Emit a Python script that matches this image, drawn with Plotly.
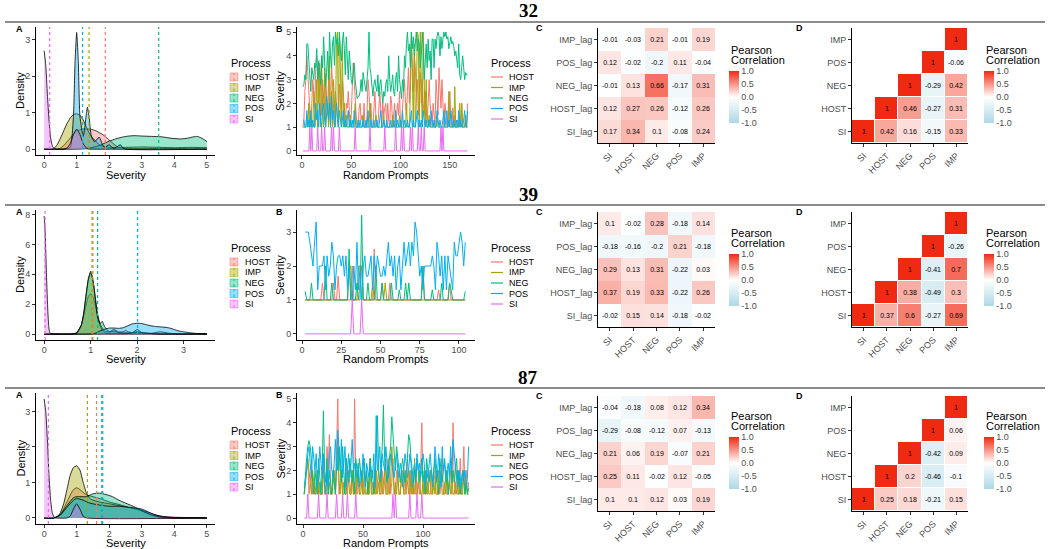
import plotly.graph_objects as go

W, H = 1050, 549
FONT = "Liberation Sans, Arial, sans-serif"

PROCESSES = ["HOST", "IMP", "NEG", "POS", "SI"]
COLORS = {"HOST": "#F8766D", "IMP": "#A3A500", "NEG": "#00BF7D", "POS": "#00B0F6", "SI": "#E76BF3"}
FILLS = {"HOST": "rgba(248,118,109,0.4)", "IMP": "rgba(163,165,0,0.4)", "NEG": "rgba(0,191,125,0.4)",
         "POS": "rgba(0,176,246,0.4)", "SI": "rgba(231,107,243,0.4)"}
PROMPTS = ["32", "39", "87"]
CORR_COLS = ["SI", "HOST", "NEG", "POS", "IMP"]
LAG_ROWS = ["SI_lag", "HOST_lag", "NEG_lag", "POS_lag", "IMP_lag"]

# ---------------- density curves (panel A) ----------------
# prompt 32
D32_HOST_X = [0, 0.4, 0.5, 0.6, 0.7, 0.8, 0.9, 1.0, 1.2, 1.4, 1.5, 1.6, 1.7, 1.8, 1.9, 2.0, 2.1, 2.2, 2.3, 2.5, 3.0, 3.5, 4.0, 4.5, 5.0]
D32_HOST_Y = [0, 0, 0.03, 0.1, 0.2, 0.3, 0.42, 0.5, 0.55, 0.55, 0.53, 0.5, 0.45, 0.4, 0.33, 0.25, 0.17, 0.1, 0.05, 0.02, 0.01, 0.02, 0.02, 0.01, 0]
D32_IMP_X = [0, 0.2, 0.3, 0.4, 0.5, 0.6, 0.7, 0.8, 0.9, 1.0, 1.1, 1.2, 1.3, 1.4, 1.5, 1.6, 1.7, 1.8, 2.0, 2.5, 3.0, 3.5, 4.0, 4.5, 5.0]
D32_IMP_Y = [0, 0, 0.02, 0.12, 0.3, 0.5, 0.7, 0.85, 0.95, 0.97, 0.93, 0.8, 0.6, 0.42, 0.3, 0.2, 0.12, 0.08, 0.05, 0.05, 0.06, 0.05, 0.04, 0.05, 0.04]
D32_NEG_X = [0, 1.0, 1.3, 1.5, 1.7, 1.9, 2.0, 2.2, 2.4, 2.6, 2.8, 3.0, 3.3, 3.6, 3.9, 4.2, 4.4, 4.6, 4.7, 4.8, 4.9, 5.0]
D32_NEG_Y = [0, 0, 0.02, 0.05, 0.1, 0.18, 0.22, 0.28, 0.33, 0.36, 0.37, 0.36, 0.35, 0.34, 0.3, 0.28, 0.3, 0.34, 0.35, 0.32, 0.27, 0.21]
D32_POS_X = [0, 0.6, 0.8, 0.9, 0.95, 1.0, 1.05, 1.1, 1.2, 1.25, 1.3, 1.33, 1.38, 1.45, 1.55, 1.65, 1.7, 1.78, 1.85, 1.95, 2.0, 2.05, 2.15, 2.3, 2.35, 2.4, 2.5, 5.0]
D32_POS_Y = [0, 0, 0.05, 0.9, 2.4, 3.2, 2.4, 0.9, 0.35, 0.6, 1.0, 1.15, 0.9, 0.35, 0.2, 0.3, 0.32, 0.15, 0.05, 0.1, 0.12, 0.08, 0.02, 0.1, 0.12, 0.05, 0, 0]
D32_SI_X = [0, 0.05, 0.1, 0.15, 0.2, 0.25, 0.3, 0.4, 0.6, 0.7, 0.8, 0.9, 1.0, 1.1, 1.2, 1.3, 1.4, 1.6, 5.0]
D32_SI_Y = [2.7, 2.3, 1.5, 0.8, 0.3, 0.1, 0.02, 0, 0, 0.03, 0.15, 0.4, 0.55, 0.4, 0.15, 0.03, 0, 0, 0]

# prompt 39
D39_HOST_X = [0, 0.6, 0.7, 0.8, 0.9, 0.95, 1.0, 1.05, 1.1, 1.2, 1.3, 1.4, 1.5, 1.6, 1.7, 1.75, 1.8, 1.9, 2.0, 2.1, 2.3, 2.5, 2.7, 3.0, 3.5]
D39_HOST_Y = [0, 0, 0.1, 0.6, 1.9, 2.5, 2.7, 2.5, 1.9, 0.7, 0.2, 0.15, 0.3, 0.15, 0.15, 0.25, 0.15, 0.1, 0.3, 0.1, 0.05, 0.15, 0.05, 0, 0]
D39_IMP_X = [0, 0.6, 0.7, 0.8, 0.85, 0.9, 0.95, 1.0, 1.05, 1.1, 1.15, 1.2, 1.25, 1.3, 1.4, 1.5, 1.7, 2.0, 2.2, 2.5, 3.0, 3.5]
D39_IMP_Y = [0, 0, 0.05, 0.6, 1.3, 2.5, 3.6, 4.1, 3.6, 2.5, 1.3, 0.6, 0.25, 0.1, 0.05, 0.05, 0.05, 0.1, 0.05, 0, 0, 0]
D39_NEG_X = [0, 0.6, 0.7, 0.8, 0.85, 0.9, 0.95, 1.0, 1.05, 1.1, 1.15, 1.2, 1.25, 1.3, 1.4, 1.5, 1.6, 1.8, 2.0, 2.2, 2.5, 3.0, 3.5]
D39_NEG_Y = [0, 0, 0.05, 0.6, 1.4, 2.6, 3.7, 4.2, 3.6, 2.3, 1.1, 0.7, 0.85, 0.5, 0.15, 0.2, 0.1, 0.05, 0.15, 0.05, 0, 0, 0.02]
D39_POS_X = [0, 1.0, 1.1, 1.2, 1.3, 1.4, 1.5, 1.6, 1.7, 1.8, 1.9, 2.0, 2.1, 2.2, 2.3, 2.4, 2.5, 2.6, 2.7, 2.8, 2.9, 3.0, 3.1, 3.2, 3.3, 3.4, 3.5]
D39_POS_Y = [0, 0, 0.05, 0.2, 0.32, 0.4, 0.4, 0.38, 0.42, 0.55, 0.68, 0.72, 0.7, 0.62, 0.55, 0.5, 0.48, 0.45, 0.4, 0.3, 0.2, 0.15, 0.1, 0.06, 0.03, 0.01, 0]
D39_SI_X = [0, 0.02, 0.05, 0.08, 0.1, 0.12, 0.15, 0.2, 3.5]
D39_SI_Y = [7.9, 7.0, 4.0, 1.5, 0.5, 0.1, 0.02, 0, 0]

# prompt 87
D87_HOST_X = [0, 0.3, 0.5, 0.7, 0.9, 1.0, 1.1, 1.3, 1.5, 1.8, 2.0, 2.3, 2.6, 3.0, 3.3, 3.6, 4.0, 4.5, 5.0]
D87_HOST_Y = [0, 0, 0.1, 0.45, 0.8, 0.85, 0.8, 0.65, 0.6, 0.52, 0.45, 0.38, 0.3, 0.22, 0.12, 0.05, 0.02, 0.01, 0]
D87_IMP_X = [0, 0.3, 0.4, 0.5, 0.6, 0.7, 0.8, 0.9, 1.0, 1.1, 1.2, 1.3, 1.4, 1.5, 1.7, 2.0, 2.3, 2.6, 3.0, 3.3, 3.6, 4.0, 5.0]
D87_IMP_Y = [0, 0, 0.03, 0.15, 0.4, 0.8, 1.2, 1.42, 1.47, 1.35, 1.0, 0.7, 0.55, 0.5, 0.45, 0.4, 0.35, 0.3, 0.2, 0.08, 0.02, 0, 0]
D87_NEG_X = [0, 0.3, 0.5, 0.7, 0.9, 1.0, 1.1, 1.3, 1.5, 1.7, 1.9, 2.1, 2.3, 2.5, 2.8, 3.0, 3.3, 3.6, 4.0, 5.0]
D87_NEG_Y = [0, 0, 0.1, 0.35, 0.57, 0.6, 0.6, 0.6, 0.68, 0.7, 0.66, 0.6, 0.5, 0.42, 0.3, 0.2, 0.08, 0.02, 0, 0]
D87_POS_X = [0, 0.3, 0.5, 0.7, 0.9, 1.0, 1.2, 1.4, 1.6, 1.8, 2.0, 2.3, 2.6, 2.9, 3.0, 3.2, 3.5, 3.8, 4.0, 5.0]
D87_POS_Y = [0, 0, 0.08, 0.3, 0.5, 0.55, 0.5, 0.42, 0.38, 0.35, 0.33, 0.33, 0.3, 0.27, 0.25, 0.17, 0.06, 0.02, 0, 0]
D87_SI_X = [0, 0.05, 0.1, 0.15, 0.2, 0.25, 0.3, 0.35, 0.7, 0.8, 0.9, 1.0, 1.1, 1.2, 1.3, 5.0]
D87_SI_Y = [3.35, 3.0, 2.2, 1.2, 0.5, 0.15, 0.03, 0, 0, 0.05, 0.25, 0.4, 0.25, 0.05, 0, 0]

# mean severity (dashed lines), order HOST, IMP, NEG, POS, SI
MEAN32 = [1.88, 1.38, 3.52, 1.18, 0.17]
MEAN39 = [1.05, 1.03, 1.15, 2.01, 0.02]
MEAN87 = [1.61, 1.33, 1.77, 1.80, 0.13]

# ---------------- severity per random prompt (panel B) ----------------
S32_HOST = [1.0, 1.3, 2.5, 3.0, 4.0, 3.2, 2.3, 1.5, 1.0, 2.0, 3.0, 2.5,
            1.8, 3.5, 4.0, 3.0, 2.0, 3.7, 2.5, 1.5, 3.0, 2.0, 1.3, 3.2,
            2.5, 1.5, 3.0, 2.0, 1.0, 3.7, 2.5, 1.5, 1.0, 2.5, 2.0, 1.2,
            1.0, 2.8, 2.0, 1.5, 3.0, 2.5, 1.5, 1.0, 2.0, 1.8, 2.5, 1.3,
            1.0, 1.5, 2.3, 3.7, 3.0, 2.0, 1.5, 1.0, 1.0, 1.8, 2.0, 1.3,
            1.5, 1.0, 2.0, 1.0, 1.0, 1.5, 3.0, 2.5, 1.5, 2.0, 1.0, 1.0,
            1.8, 2.5, 1.5, 1.0, 1.0, 2.0, 2.5, 1.7, 1.0, 2.0, 1.5, 1.8,
            2.0, 1.0, 2.0, 1.3, 1.0, 2.3, 2.0, 1.0, 1.5, 2.0, 1.0, 1.5,
            2.0, 1.5, 2.5, 1.0, 1.0, 1.8, 2.5, 3.0, 2.0, 1.5, 2.5, 3.5,
            2.0, 3.8, 4.5, 3.5, 2.5, 4.0, 3.5, 2.5, 3.0, 1.5, 2.5, 3.3,
            2.0, 3.0, 2.0, 1.5, 2.5, 2.0, 1.2, 2.0, 3.0, 2.0, 1.5, 1.0,
            2.0, 1.5, 1.0, 3.0, 2.0, 1.5, 3.5, 2.5, 1.8, 3.0, 1.5, 1.0,
            2.0, 1.5, 1.0, 1.0, 2.0, 2.5, 1.5, 1.0, 1.8, 1.0, 1.5, 1.0,
            1.0, 1.3, 1.0, 1.5, 1.0, 2.0, 1.0, 1.0, 1.0, 1.3, 1.0, 2.0]
S32_IMP = [1.0, 1.0, 1.0, 1.0, 1.5, 1.0, 2.0, 1.0, 1.5, 1.0, 1.0, 2.5,
           1.0, 1.5, 3.0, 1.0, 3.5, 2.0, 1.0, 4.0, 1.5, 1.0, 3.5, 1.0,
           1.5, 2.0, 1.0, 4.0, 1.0, 2.5, 1.0, 3.0, 2.0, 1.0, 4.5, 5.0,
           1.0, 5.0, 3.5, 1.0, 4.5, 1.0, 2.0, 1.0, 1.5, 1.0, 1.0, 1.0,
           1.5, 1.0, 1.0, 1.0, 1.0, 2.0, 1.0, 1.0, 1.0, 1.0, 1.0, 1.0,
           1.0, 1.5, 1.0, 1.0, 1.0, 1.0, 1.0, 1.0, 2.0, 1.0, 1.0, 1.0,
           1.0, 1.0, 1.5, 1.0, 1.0, 1.0, 1.0, 1.0, 1.0, 1.0, 1.5, 1.0,
           1.0, 1.0, 1.0, 1.0, 1.0, 1.0, 1.0, 1.5, 1.0, 1.0, 1.0, 1.0,
           1.0, 1.0, 1.5, 1.0, 1.0, 1.0, 1.0, 1.0, 1.0, 2.0, 1.0, 1.0,
           1.0, 2.5, 5.0, 3.0, 1.0, 4.5, 1.0, 2.0, 5.0, 4.8, 1.0, 5.0,
           3.0, 1.0, 5.0, 2.0, 1.0, 3.0, 1.0, 1.0, 1.5, 1.0, 1.0, 1.0,
           1.0, 1.0, 1.0, 1.0, 1.5, 1.0, 1.0, 1.0, 1.0, 1.0, 1.0, 1.0,
           1.0, 1.0, 1.0, 1.0, 2.5, 1.0, 1.0, 1.0, 1.0, 1.0, 2.7, 1.0,
           1.0, 1.0, 1.0, 2.0, 1.0, 2.0, 1.0, 1.0, 1.0, 1.5, 1.0, 1.0]
S32_NEG = [2.7, 2.8, 3.2, 3.0, 4.5, 4.5, 3.8, 3.2, 2.5, 3.5, 3.3, 3.0,
           3.7, 3.5, 4.3, 3.0, 3.8, 3.2, 2.8, 4.0, 3.5, 4.8, 3.5, 2.7,
           3.3, 4.2, 3.0, 5.0, 4.0, 3.5, 4.5, 4.8, 3.6, 5.0, 4.5, 4.7,
           4.0, 5.0, 4.2, 3.8, 4.5, 5.0, 4.3, 3.2, 4.8, 3.5, 3.0, 4.2,
           3.5, 3.0, 2.8, 3.3, 3.7, 3.0, 2.5, 2.2, 2.3, 2.3, 2.5, 3.0,
           2.5, 3.3, 3.0, 2.8, 2.5, 3.0, 3.5, 5.0, 3.5, 3.2, 2.8, 2.3,
           2.8, 3.0, 2.7, 2.5, 3.2, 2.3, 2.8, 3.0, 2.5, 2.0, 2.5, 2.3,
           2.8, 3.0, 2.5, 4.0, 3.0, 2.5, 2.8, 3.2, 2.5, 2.3, 3.0, 3.3,
           2.5, 4.0, 3.0, 2.7, 2.2, 3.0, 2.5, 4.0, 3.5, 4.5, 5.0, 4.2,
           4.5, 3.5, 5.0, 4.3, 4.8, 4.0, 4.5, 5.0, 4.2, 4.7, 4.5, 3.5,
           4.0, 5.0, 4.3, 3.0, 3.7, 4.5, 3.5, 4.7, 3.8, 4.2, 3.0, 4.7,
           4.7, 3.5, 4.7, 4.3, 4.8, 5.0, 4.8, 4.0, 4.8, 4.3, 4.7, 5.0,
           4.8, 5.0, 4.7, 4.8, 4.3, 4.5, 4.8, 4.5, 4.6, 4.4, 4.0, 4.2,
           3.8, 3.5, 4.5, 3.2, 3.0, 3.4, 4.0, 3.5, 3.0, 3.3, 3.2, 3.2]
S32_POS = [1.3, 1.3, 1.0, 1.0, 1.7, 1.0, 1.3, 1.0, 1.7, 1.0, 1.3, 1.0,
           1.0, 2.0, 1.3, 1.7, 1.0, 2.0, 1.3, 1.0, 1.7, 2.0, 1.3, 1.0,
           2.3, 1.7, 1.3, 2.0, 1.0, 2.3, 1.3, 1.7, 1.0, 1.3, 2.0, 1.3,
           1.0, 1.7, 1.3, 1.0, 1.3, 1.7, 1.0, 1.3, 1.0, 1.3, 1.7, 1.0,
           1.3, 1.0, 1.3, 1.0, 1.7, 1.3, 1.0, 1.0, 1.3, 1.0, 1.3, 1.0,
           1.0, 1.3, 1.0, 1.0, 1.3, 1.0, 1.7, 1.0, 1.0, 1.3, 1.0, 1.0,
           1.3, 1.0, 1.0, 1.3, 1.0, 1.0, 1.3, 1.7, 1.0, 1.0, 1.3, 1.0,
           1.0, 1.3, 1.0, 1.0, 1.0, 1.3, 1.0, 1.0, 1.3, 1.0, 1.7, 1.0,
           1.3, 1.0, 1.0, 1.3, 1.0, 1.7, 1.0, 1.3, 1.0, 1.0, 1.3, 1.0,
           1.0, 1.3, 1.7, 1.0, 1.3, 1.0, 1.0, 1.3, 1.7, 1.0, 1.3, 1.0,
           1.3, 1.0, 1.7, 1.3, 1.0, 1.3, 1.0, 1.0, 1.3, 1.0, 1.7, 1.3,
           1.0, 1.3, 1.0, 1.0, 1.7, 1.3, 1.0, 1.3, 1.0, 1.0, 1.3, 1.7,
           1.0, 1.3, 1.7, 1.0, 1.3, 1.0, 1.7, 1.3, 1.0, 1.3, 1.0, 1.0,
           1.3, 1.0, 1.7, 1.0, 1.3, 1.0, 1.0, 1.3, 1.7, 1.0, 1.0, 1.7]
S32_SI = [0, 0, 0, 0, 0, 0, 0, 1, 0, 1, 0, 0,
          0, 0, 0, 1, 0, 0, 0, 1, 0, 0, 1, 0,
          0, 0, 0, 0, 0, 1, 0, 1, 0, 0, 0, 0,
          0, 1, 0, 0, 0, 0, 0, 0, 0, 0, 0, 0,
          0, 0, 0, 0, 0, 1, 0, 0, 0, 0, 0, 0,
          0, 0, 0, 0, 0, 0, 0, 0, 1, 0, 0, 0,
          0, 0, 0, 0, 0, 0, 0, 0, 0, 0, 0, 1,
          0, 0, 0, 0, 0, 0, 0, 0, 0, 0, 1, 0,
          0, 0, 0, 0, 1, 0, 1, 0, 0, 0, 0, 0,
          0, 1, 0, 1, 0, 0, 0, 0, 0, 1, 0, 0,
          1, 0, 0, 1, 0, 0, 0, 0, 0, 0, 0, 0,
          0, 0, 0, 0, 0, 0, 0, 0, 1, 0, 1, 0,
          0, 0, 0, 0, 0, 0, 0, 0, 0, 0, 0, 0,
          0, 0, 0, 0, 0, 0, 0, 0, 0, 0, 0, 0]

S39_HOST = [1.0, 1.0, 1.0, 1.0, 1.0, 1.0, 1.0, 1.0, 1.0, 1.0, 1.0, 1.5,
            1.0, 1.0, 1.0, 1.0, 1.0, 1.0, 1.5, 1.0, 1.0, 1.7, 1.0, 1.0,
            1.0, 1.0, 1.0, 1.0, 1.0, 1.0, 2.0, 1.0, 1.0, 1.0, 1.0, 1.5,
            2.0, 1.0, 1.0, 1.0, 1.0, 1.0, 1.0, 1.0, 2.5, 1.0, 1.0, 1.0,
            1.0, 1.5, 1.0, 1.0, 1.0, 1.0, 1.5, 1.0, 1.0, 1.0, 1.0, 1.0,
            1.0, 1.0, 1.0, 1.0, 1.0, 1.0, 1.0, 1.0, 1.0, 1.0, 1.0, 1.0,
            1.0, 1.0, 1.0, 2.0, 1.0, 1.0, 1.0, 1.0, 1.0, 1.0, 1.0, 1.0,
            1.0, 1.3, 1.0, 1.0, 1.0, 1.0, 1.0, 1.0, 1.5, 1.0, 1.0, 1.0,
            1.0, 1.0, 1.0, 1.0, 1.0, 1.0, 1.0]
S39_IMP = [1.0, 1.0, 1.0, 1.0, 1.0, 1.0, 1.0, 1.0, 1.0, 1.0, 1.0, 1.0,
           1.0, 1.0, 1.0, 1.0, 1.0, 1.0, 1.0, 1.0, 1.0, 1.0, 1.0, 1.0,
           1.0, 1.0, 1.0, 1.0, 2.0, 2.0, 1.0, 1.0, 1.0, 1.0, 2.0, 2.0,
           2.0, 1.0, 1.0, 1.0, 1.0, 1.0, 1.0, 1.5, 1.0, 1.0, 1.0, 1.0,
           1.0, 1.0, 1.0, 1.5, 1.0, 1.0, 1.0, 1.0, 1.0, 1.0, 1.0, 1.0,
           1.0, 1.0, 1.0, 1.0, 1.0, 1.0, 1.0, 1.0, 1.0, 1.0, 1.0, 1.0,
           1.0, 1.0, 1.0, 1.0, 1.0, 1.0, 1.0, 1.0, 1.0, 1.0, 1.0, 1.0,
           1.0, 1.0, 1.0, 1.0, 1.0, 1.0, 1.0, 1.0, 1.0, 1.0, 1.0, 1.0,
           1.0, 1.0, 1.0, 1.0, 1.0, 1.0, 1.0]
S39_NEG = [1.25, 1.0, 1.0, 1.0, 1.5, 1.0, 1.0, 1.0, 1.0, 1.0, 1.0, 1.0,
           1.0, 2.0, 1.0, 1.0, 1.0, 1.5, 1.0, 1.0, 1.0, 1.0, 1.0, 1.0,
           1.0, 1.0, 1.0, 1.0, 2.5, 1.0, 1.0, 1.0, 1.0, 1.5, 1.0, 1.0,
           3.5, 1.0, 1.0, 1.0, 1.5, 1.0, 1.0, 1.0, 1.0, 2.0, 1.0, 1.0,
           1.0, 1.5, 1.0, 1.0, 1.0, 1.0, 1.0, 1.5, 1.0, 1.0, 1.0, 1.0,
           1.3, 1.0, 1.0, 1.0, 1.5, 1.0, 1.5, 1.0, 1.0, 1.0, 1.0, 1.0,
           1.0, 1.0, 1.0, 2.0, 1.0, 1.0, 1.0, 1.0, 1.0, 1.3, 1.0, 1.0,
           1.0, 1.0, 1.0, 1.5, 1.0, 1.0, 1.0, 1.0, 1.5, 1.3, 1.0, 1.0,
           1.0, 1.0, 1.0, 1.0, 1.0, 1.0, 1.25]
S39_POS = [3.0, 3.0, 3.0, 2.7, 2.3, 2.0, 2.7, 3.3, 1.3, 2.0, 2.0, 2.0,
           2.3, 1.3, 2.3, 1.7, 2.0, 2.7, 2.3, 1.3, 2.0, 2.3, 2.3, 2.0,
           2.3, 1.7, 2.3, 1.3, 2.0, 1.3, 1.0, 2.0, 1.3, 2.7, 1.3, 2.0,
           1.0, 2.0, 2.3, 1.7, 1.7, 2.0, 2.3, 1.3, 2.3, 1.7, 2.3, 2.0,
           1.7, 1.7, 2.0, 1.7, 2.3, 2.7, 2.0, 2.3, 1.7, 2.3, 1.3, 2.0,
           2.3, 1.3, 2.0, 2.7, 2.0, 2.3, 2.7, 2.0, 2.7, 2.3, 3.3, 3.0,
           2.3, 1.7, 2.0, 1.3, 2.0, 2.0, 2.0, 2.0, 2.0, 2.3, 2.0, 1.3,
           2.7, 2.3, 1.7, 2.3, 1.3, 2.3, 1.3, 2.3, 2.0, 1.7, 1.3, 2.7,
           2.3, 2.3, 2.7, 3.0, 2.7, 2.0, 2.7]
S39_SI = [0, 0, 0, 0, 0, 0, 0, 0, 0, 0, 0, 0,
          0, 0, 0, 0, 0, 0, 0, 0, 0, 0, 0, 0,
          0, 0, 0, 0, 0, 0, 1, 0, 0, 0, 0, 0,
          1, 0, 0, 0, 0, 0, 0, 0, 0, 0, 0, 0,
          0, 0, 0, 0, 0, 0, 0, 0, 0, 0, 0, 0,
          0, 0, 0, 0, 0, 0, 0, 0, 0, 0, 0, 0,
          0, 0, 0, 0, 0, 0, 0, 0, 0, 0, 0, 0,
          0, 0, 0, 0, 0, 0, 0, 0, 0, 0, 0, 0,
          0, 0, 0, 0, 0, 0, 0]

S87_HOST = [1.0, 1.5, 2.0, 2.5, 1.0, 1.5, 2.0, 1.0, 1.5, 1.0, 1.0, 2.0,
            1.5, 1.0, 1.0, 1.0, 2.5, 1.0, 1.0, 3.0, 2.0, 3.5, 1.0, 1.0,
            1.5, 2.0, 1.0, 3.0, 5.0, 1.0, 1.5, 2.0, 1.0, 1.0, 1.5, 2.5,
            1.0, 2.0, 1.5, 1.0, 2.0, 1.0, 5.0, 1.5, 1.0, 2.0, 1.0, 1.5,
            2.0, 1.0, 1.0, 1.5, 2.0, 1.0, 1.0, 2.5, 1.0, 1.5, 1.0, 2.0,
            1.0, 1.5, 2.0, 1.0, 1.0, 2.0, 1.0, 1.5, 2.5, 1.0, 1.0, 2.0,
            1.0, 1.5, 2.5, 1.0, 1.0, 2.0, 1.5, 1.0, 1.0, 2.0, 1.5, 1.0,
            2.0, 1.0, 2.5, 1.5, 1.0, 2.0, 1.0, 1.5, 1.0, 2.0, 1.0, 1.5,
            1.0, 2.0, 4.0, 1.0, 1.5, 1.0, 2.0, 1.0, 1.5, 2.0, 1.0, 1.0,
            2.0, 1.5, 1.0, 1.0, 2.0, 1.0, 1.5, 2.5, 1.0, 1.0, 2.0, 1.0,
            1.0, 1.5, 2.0, 1.0, 4.0, 1.5, 1.0, 2.0, 1.0, 1.0, 2.5, 1.0,
            1.5, 3.0, 1.0, 2.0, 1.0, 1.5]
S87_IMP = [1.0, 1.5, 2.0, 2.5, 2.0, 1.5, 1.0, 2.0, 1.5, 1.0, 1.5, 2.0,
           1.0, 1.5, 1.0, 1.0, 2.0, 1.5, 1.0, 2.0, 1.0, 1.5, 1.0, 1.0,
           1.5, 2.0, 1.0, 2.0, 3.0, 1.5, 1.0, 2.0, 1.0, 1.5, 1.0, 1.0,
           2.0, 1.5, 1.0, 1.0, 2.0, 1.0, 1.5, 1.0, 2.0, 1.5, 1.0, 1.0,
           1.5, 1.0, 2.0, 1.0, 1.0, 1.5, 1.0, 2.5, 1.0, 1.0, 1.5, 1.0,
           2.0, 1.0, 1.5, 1.0, 2.0, 1.0, 1.5, 2.0, 1.0, 1.0, 2.5, 1.0,
           1.5, 3.0, 2.0, 1.0, 1.5, 1.0, 2.0, 1.0, 1.0, 1.5, 2.0, 1.0,
           1.0, 2.0, 1.5, 1.0, 2.0, 1.0, 1.5, 1.0, 2.5, 1.0, 1.0, 1.5,
           2.0, 1.0, 1.0, 1.5, 1.0, 2.0, 1.0, 1.5, 1.0, 1.0, 2.0, 1.0,
           1.5, 1.0, 2.0, 1.0, 1.0, 1.5, 2.0, 1.0, 1.0, 1.5, 1.0, 2.0,
           1.0, 1.5, 1.0, 2.0, 1.0, 1.0, 1.5, 1.0, 2.0, 1.0, 1.5, 1.0,
           1.0, 2.0, 1.0, 1.5, 1.0, 1.0]
S87_NEG = [1.0, 2.0, 2.5, 3.0, 3.25, 3.0, 2.5, 1.5, 1.0, 2.0, 1.5, 1.0,
           2.5, 1.5, 1.0, 2.0, 4.5, 2.0, 1.5, 2.5, 1.0, 2.0, 1.5, 1.0,
           2.0, 1.5, 1.0, 2.5, 2.0, 3.0, 2.0, 1.5, 3.0, 2.0, 1.0, 2.5,
           2.0, 1.5, 2.5, 2.0, 1.5, 2.0, 1.0, 2.5, 2.0, 1.5, 2.5, 2.0,
           1.5, 2.0, 2.5, 1.5, 2.0, 1.0, 2.0, 2.5, 1.5, 2.0, 1.0, 2.0,
           2.5, 4.3, 2.0, 1.5, 2.0, 3.0, 4.75, 2.5, 2.0, 1.5, 2.0, 2.5,
           3.0, 4.25, 3.5, 2.5, 2.0, 3.0, 2.5, 2.0, 1.5, 2.0, 2.5, 2.0,
           1.5, 2.0, 2.5, 3.5, 3.25, 2.5, 2.0, 1.5, 2.0, 1.5, 2.5, 2.0,
           1.5, 2.0, 2.5, 1.5, 2.0, 1.0, 2.5, 2.0, 1.5, 2.0, 2.0, 1.5,
           2.0, 2.5, 1.5, 2.0, 1.0, 2.5, 2.0, 1.5, 2.0, 2.5, 1.5, 2.0,
           1.0, 2.0, 2.5, 1.5, 2.0, 1.5, 2.0, 2.5, 1.5, 2.0, 1.0, 1.5,
           2.0, 1.5, 1.0, 1.5, 1.0, 1.25]
S87_POS = [1.3, 1.7, 2.0, 2.7, 3.0, 2.3, 1.7, 3.0, 2.3, 2.0, 2.7, 1.3,
           2.0, 3.0, 2.3, 1.7, 2.7, 1.3, 1.0, 2.0, 1.3, 2.7, 3.0, 2.0,
           1.7, 2.3, 3.3, 2.0, 3.7, 2.7, 2.0, 3.3, 1.7, 2.3, 3.0, 1.3,
           2.0, 2.7, 1.7, 2.3, 3.3, 2.0, 2.3, 1.7, 2.0, 2.3, 1.3, 2.0,
           1.7, 2.7, 2.0, 1.3, 2.3, 2.0, 1.7, 2.3, 2.0, 1.7, 2.7, 1.3,
           4.3, 2.0, 2.3, 3.0, 1.7, 2.7, 2.3, 2.0, 3.0, 2.3, 1.7, 2.0,
           2.7, 2.3, 2.0, 1.7, 2.3, 2.7, 2.0, 1.7, 2.3, 2.0, 1.3, 2.0,
           2.7, 2.3, 1.7, 2.0, 2.7, 2.3, 1.3, 2.0, 2.3, 1.7, 2.7, 2.0,
           2.3, 1.7, 2.0, 2.7, 2.3, 1.3, 2.0, 1.7, 2.3, 2.7, 2.0, 1.3,
           2.0, 3.0, 2.3, 1.7, 2.7, 2.0, 1.3, 3.0, 2.0, 2.3, 1.7, 2.0,
           2.3, 1.7, 3.0, 2.0, 3.3, 2.7, 2.0, 1.7, 1.3, 2.0, 1.7, 1.3,
           2.0, 1.7, 2.0, 1.3, 1.7, 3.0]
S87_SI = [0, 0, 0, 1, 0, 0, 0, 0, 0, 0, 0, 0,
          1, 0, 0, 0, 0, 0, 0, 1, 0, 0, 0, 0,
          0, 0, 0, 1, 0, 0, 0, 0, 1, 0, 0, 0,
          1, 0, 0, 0, 0, 0, 0, 1, 0, 0, 0, 0,
          0, 0, 0, 0, 0, 0, 0, 0, 0, 0, 0, 0,
          0, 0, 0, 0, 0, 0, 0, 0, 0, 0, 0, 0,
          0, 0, 1, 0, 1, 0, 0, 0, 0, 0, 0, 0,
          0, 0, 0, 0, 1, 0, 0, 0, 0, 0, 1, 0,
          0, 0, 1, 0, 0, 0, 0, 0, 0, 0, 0, 0,
          0, 0, 0, 0, 0, 0, 0, 0, 0, 0, 0, 0,
          0, 0, 0, 0, 0, 0, 0, 0, 0, 0, 0, 0,
          0, 0, 0, 0, 0, 0]

# ---------------- lagged correlations (panel C), rows SI_lag..IMP_lag, cols SI..IMP ----------------
LAG32 = [[0.17, 0.34, 0.1, -0.08, 0.24],
         [0.12, 0.27, 0.26, -0.12, 0.26],
         [-0.01, 0.13, 0.66, -0.17, 0.31],
         [0.12, -0.02, -0.2, 0.11, -0.04],
         [-0.01, -0.03, 0.21, -0.01, 0.19]]
LAG39 = [[-0.02, 0.15, 0.14, -0.18, -0.02],
         [0.37, 0.19, 0.33, -0.22, 0.26],
         [0.29, 0.13, 0.31, -0.22, 0.03],
         [-0.18, -0.16, -0.2, 0.21, -0.18],
         [0.1, -0.02, 0.28, -0.18, 0.14]]
LAG87 = [[0.1, 0.1, 0.12, 0.03, 0.19],
         [0.25, 0.11, -0.02, 0.12, -0.05],
         [0.21, 0.06, 0.19, -0.07, 0.21],
         [-0.29, -0.08, -0.12, 0.07, -0.13],
         [-0.04, -0.18, 0.08, 0.12, 0.34]]

# ---------------- correlations (panel D), lower triangle ----------------
CORR32 = [[1, 0.42, 0.16, -0.15, 0.33],
          [None, 1, 0.46, -0.27, 0.31],
          [None, None, 1, -0.29, 0.42],
          [None, None, None, 1, -0.06],
          [None, None, None, None, 1]]
CORR39 = [[1, 0.37, 0.6, -0.27, 0.69],
          [None, 1, 0.38, -0.49, 0.3],
          [None, None, 1, -0.41, 0.7],
          [None, None, None, 1, -0.26],
          [None, None, None, None, 1]]
CORR87 = [[1, 0.25, 0.18, -0.21, 0.15],
          [None, 1, 0.2, -0.46, -0.1],
          [None, None, 1, -0.42, 0.09],
          [None, None, None, 1, 0.06],
          [None, None, None, None, 1]]

DENS = [
    [(D32_HOST_X, D32_HOST_Y), (D32_IMP_X, D32_IMP_Y), (D32_NEG_X, D32_NEG_Y), (D32_POS_X, D32_POS_Y), (D32_SI_X, D32_SI_Y)],
    [(D39_HOST_X, D39_HOST_Y), (D39_IMP_X, D39_IMP_Y), (D39_NEG_X, D39_NEG_Y), (D39_POS_X, D39_POS_Y), (D39_SI_X, D39_SI_Y)],
    [(D87_HOST_X, D87_HOST_Y), (D87_IMP_X, D87_IMP_Y), (D87_NEG_X, D87_NEG_Y), (D87_POS_X, D87_POS_Y), (D87_SI_X, D87_SI_Y)],
]
MEANS = [MEAN32, MEAN39, MEAN87]
SEV = [[S32_HOST, S32_IMP, S32_NEG, S32_POS, S32_SI],
       [S39_HOST, S39_IMP, S39_NEG, S39_POS, S39_SI],
       [S87_HOST, S87_IMP, S87_NEG, S87_POS, S87_SI]]
LAGS = [LAG32, LAG39, LAG87]
CORRS = [CORR32, CORR39, CORR87]

# layout in window pixels for each row of panels
ROWS = [
    dict(title=11, rule=22, top=27, bottom=155, hm_top=28, hm_bottom=143, leg=63, cb_top=71, cb_bottom=123, xlab=175),
    dict(title=194, rule=205, top=210, bottom=340, hm_top=212, hm_bottom=327, leg=248, cb_top=254, cb_bottom=306, xlab=359),
    dict(title=377, rule=388, top=393, bottom=524, hm_top=396, hm_bottom=511, leg=431, cb_top=437, cb_bottom=489, xlab=543),
]
A_X = (36, 215)
B_X = (297, 475)
C_X = (598, 715)
D_X = (852, 968)
CB_X = (729, 984)
A_XRANGE = [[-0.25, 5.25], [-0.175, 3.675], [-0.25, 5.25]]
A_YRANGE = [[-0.16, 3.35], [-0.4, 8.3], [-0.17, 3.52]]
A_XTICKS = [[0, 1, 2, 3, 4, 5], [0, 1, 2, 3], [0, 1, 2, 3, 4, 5]]
A_YTICKS = [[0, 1, 2, 3], [0, 2, 4, 6, 8], [0, 1, 2, 3]]
B_XRANGE = [[-5, 175.5], [-3.2, 110.2], [-5, 143.3]]
B_YRANGE = [[-0.17, 5.21], [-0.18, 3.65], [-0.25, 5.25]]
B_XTICKS = [[0, 50, 100, 150], [0, 25, 50, 75, 100], [0, 50, 100]]
B_YTICKS = [[0, 1, 2, 3, 4, 5], [0, 1, 2, 3], [0, 1, 2, 3, 4, 5]]
B_XSTART = [1, 2, 1]

SCALE = [[0, "#ADD8E6"], [0.5, "#FFFFFF"], [1, "#F02A12"]]
TICK_FONT = dict(family=FONT, size=9, color="#4D4D4D")


def fx(px):
    return px / W


def fy(py):
    return 1 - py / H


def refs(n):
    return ("x" if n == 1 else f"x{n}"), ("y" if n == 1 else f"y{n}")


fig = go.Figure()
layout_axes = {}
shapes = []
annots = []


def add_axes(n, xdom, ydom, xaxis, yaxis, pull=0):
    xr, yr = refs(n)
    base = dict(showline=True, linecolor="black", linewidth=1, ticks="outside", ticklen=3,
                tickcolor="#333", tickfont=TICK_FONT, showgrid=False, zeroline=False)
    layout_axes["xaxis" if n == 1 else f"xaxis{n}"] = dict(base, domain=[fx(xdom[0]), fx(xdom[1])], anchor=yr,
                                                            ticklabelstandoff=pull, **xaxis)
    layout_axes["yaxis" if n == 1 else f"yaxis{n}"] = dict(base, domain=[fy(ydom[1]), fy(ydom[0])], anchor=xr, **yaxis)


def text(x, y, s, size=9, color="black", bold=False, angle=0, xanchor="center", family=FONT):
    if bold:
        s = f"<b>{s}</b>"
    annots.append(dict(x=fx(x), y=fy(y), xref="paper", yref="paper", text=s, showarrow=False,
                       font=dict(family=family, size=size, color=color), textangle=angle,
                       xanchor=xanchor, yanchor="middle"))


for r, row in enumerate(ROWS):
    nA, nB, nC, nD = 4 * r + 1, 4 * r + 2, 4 * r + 3, 4 * r + 4

    # row title and rule
    text(528, row["title"], PROMPTS[r], size=19, bold=True, family="Liberation Serif, Times New Roman, serif")
    shapes.append(dict(type="line", xref="paper", yref="paper", x0=fx(5), x1=fx(1045), y0=fy(row["rule"]),
                       y1=fy(row["rule"]), line=dict(color="#666", width=1.5)))

    # ---- A: density
    add_axes(nA, A_X, (row["top"], row["bottom"]),
             dict(range=A_XRANGE[r], tickvals=A_XTICKS[r]),
             dict(range=A_YRANGE[r], tickvals=A_YTICKS[r]), pull=-2)
    xr, yr = refs(nA)
    for i, p in enumerate(PROCESSES):
        xs, ys = DENS[r][i]
        fig.add_trace(go.Scatter(x=xs, y=ys, mode="lines", fill="tozeroy", fillcolor=FILLS[p],
                                 line=dict(color="black", width=0.8, shape="spline", smoothing=0.5),
                                 name=p, showlegend=False, xaxis=xr, yaxis=yr))
    for i, p in enumerate(PROCESSES):
        m = MEANS[r][i]
        shapes.append(dict(type="line", xref=xr, yref=f"{yr} domain", x0=m, x1=m, y0=0, y1=1,
                           line=dict(color=COLORS[p], width=1.2, dash="3px,3px")))
    text(19, row["top"] + 2, "A", size=9, bold=True)
    text(20, (row["top"] + row["bottom"]) / 2, "Density", size=11, angle=-90)
    text(126, row["xlab"], "Severity", size=11)
    # legend
    text(229, row["leg"], "Process", size=11, xanchor="left")
    for i, p in enumerate(PROCESSES):
        yc = row["leg"] + 14 + i * 10.5
        shapes.append(dict(type="rect", xref="paper", yref="paper", x0=fx(230), x1=fx(238),
                           y0=fy(yc + 4), y1=fy(yc - 4), fillcolor=FILLS[p], line=dict(color=COLORS[p], width=0.5)))
        shapes.append(dict(type="line", xref="paper", yref="paper", x0=fx(234), x1=fx(234),
                           y0=fy(yc + 4), y1=fy(yc - 4), line=dict(color=COLORS[p], width=1, dash="dot")))
        text(243, yc, p, size=9, xanchor="left")

    # ---- B: severity over prompts
    add_axes(nB, B_X, (row["top"], row["bottom"]),
             dict(range=B_XRANGE[r], tickvals=B_XTICKS[r]),
             dict(range=B_YRANGE[r], tickvals=B_YTICKS[r]), pull=-2)
    xr, yr = refs(nB)
    for i, p in enumerate(PROCESSES):
        ys = SEV[r][i]
        xs = list(range(B_XSTART[r], B_XSTART[r] + len(ys)))
        fig.add_trace(go.Scatter(x=xs, y=ys, mode="lines", line=dict(color=COLORS[p], width=1),
                                 name=p, showlegend=False, xaxis=xr, yaxis=yr))
    text(279, row["top"] + 2, "B", size=9, bold=True)
    text(280, (row["top"] + row["bottom"]) / 2, "Severity", size=11, angle=-90)
    text(386, row["xlab"], "Random Prompts", size=11)
    text(489, row["leg"], "Process", size=11, xanchor="left")
    for i, p in enumerate(PROCESSES):
        yc = row["leg"] + 14 + i * 10.5
        shapes.append(dict(type="line", xref="paper", yref="paper", x0=fx(491), x1=fx(503),
                           y0=fy(yc), y1=fy(yc), line=dict(color=COLORS[p], width=1.2)))
        text(507, yc, p, size=9, xanchor="left")

    # ---- C and D: correlation heatmaps
    for n, xdom, cb_x, mat, ylabels, gap, letter_x in [(nC, C_X, CB_X[0], LAGS[r], LAG_ROWS, 0, 539),
                                                       (nD, D_X, CB_X[1], CORRS[r], CORR_COLS, 1, 799)]:
        add_axes(n, xdom, (row["hm_top"], row["hm_bottom"]),
                 dict(range=[-0.5, 4.5], tickvals=list(range(5)), ticktext=CORR_COLS, tickangle=-45),
                 dict(range=[-0.5, 4.5], tickvals=list(range(5)), ticktext=ylabels))
        xr, yr = refs(n)
        labels = [["" if v is None else str(v) for v in line] for line in mat]
        fig.add_trace(go.Heatmap(
            z=mat, x=list(range(5)), y=list(range(5)), text=labels, texttemplate="%{text}",
            textfont=dict(family=FONT, size=7, color="black"), colorscale=SCALE, zmin=-1, zmax=1,
            xgap=gap, ygap=gap, hoverongaps=False, xaxis=xr, yaxis=yr,
            colorbar=dict(x=fx(cb_x), xanchor="left", xpad=0, y=fy(row["cb_top"]), yanchor="top", ypad=0,
                          len=(row["cb_bottom"] - row["cb_top"]) / H, lenmode="fraction",
                          thickness=10, outlinewidth=0, ticks="",
                          tickvals=[-1, -0.5, 0, 0.5, 1], ticktext=["-1.0", "-0.5", "0.0", "0.5", "1.0"],
                          tickfont=TICK_FONT)))
        text(cb_x, row["cb_top"] - 21, "Pearson", size=11, xanchor="left")
        text(cb_x, row["cb_top"] - 11, "Correlation", size=11, xanchor="left")
        text(letter_x, row["hm_top"], "C" if n == nC else "D", size=9, bold=True)

fig.update_layout(width=W, height=H, margin=dict(l=0, r=0, t=0, b=0),
                  paper_bgcolor="white", plot_bgcolor="white", showlegend=False,
                  font=dict(family=FONT), shapes=shapes, annotations=annots, **layout_axes)
# drop the browser's default 8px body margin so the figure fills the window exactly
fig.write_html("out.html", config={"displayModeBar": False},
               post_script="document.body.style.margin = '0px';")
